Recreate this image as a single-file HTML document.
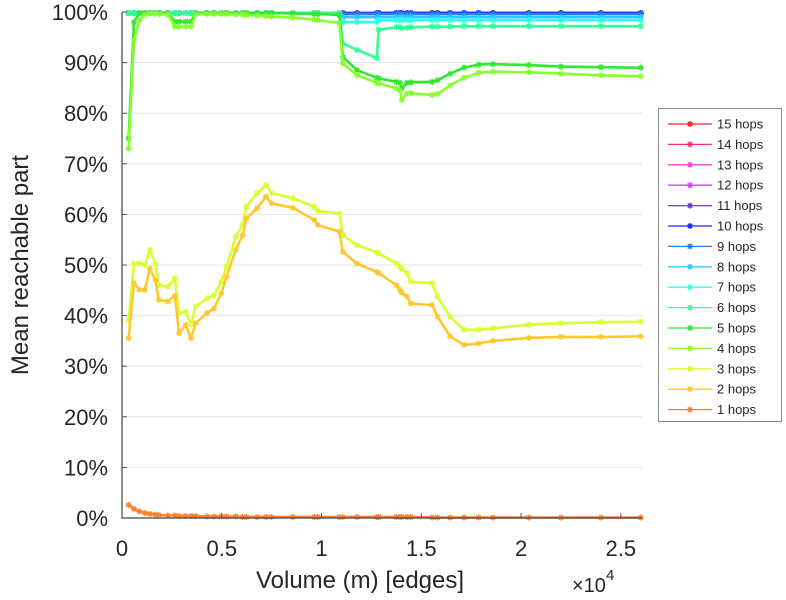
<!DOCTYPE html>
<html><head><meta charset="utf-8"><style>
html,body{margin:0;padding:0;background:#fff;}
svg{display:block;font-family:"Liberation Sans",sans-serif;}
</style></head><body>
<svg id="chart" width="786" height="600" viewBox="0 0 786 600">
<g id="grid"></g>
<g id="series"></g>
<g id="axes"></g>
<text x="360" y="588" font-size="24" fill="#262626" text-anchor="middle">Volume (m) [edges]</text>
<text x="572" y="592" font-size="20" fill="#262626">×10<tspan font-size="15" dy="-12">4</tspan></text>
<text transform="translate(28,265) rotate(-90)" font-size="24" fill="#262626" text-anchor="middle">Mean reachable part</text>
<g id="legend"></g>
</svg>
<script>
const xs = [330,600,870,1140,1400,1670,1850,2300,2650,2860,3190,3460,3690,4260,4610,4970,5240,5700,6050,6230,6770,7220,7490,8560,9640,9810,10890,11070,11780,12770,12860,13750,13930,14020,14290,14470,15540,15810,16440,17140,17870,18590,20380,22000,24000,26000];
const hop1 = [2.6,1.8,1.3,1.0,0.8,0.7,0.6,0.5,0.5,0.4,0.4,0.4,0.4,0.3,0.3,0.3,0.3,0.3,0.2,0.2,0.2,0.2,0.2,0.2,0.2,0.2,0.2,0.2,0.2,0.2,0.2,0.2,0.2,0.2,0.2,0.2,0.1,0.1,0.1,0.1,0.1,0.1,0.1,0.1,0.1,0.1];
const hop2 = [35.5,46.4,45.1,45.1,49.3,47.0,43.1,42.8,43.9,36.5,38.2,35.5,38.5,40.5,41.4,44.4,47.7,53,55.9,59.2,61.2,63.5,62.2,61.3,58.9,57.9,56.6,52.6,50.3,48.6,48.4,46,45.1,44.5,43.7,42.4,42.1,39.8,35.9,34.2,34.5,35,35.6,35.8,35.8,35.9];
const hop3 = [39.1,50.3,50.3,50,53,50.3,46,45.7,47.4,40.5,40.8,38.2,41.8,43.4,44,46.7,49.7,55.6,57.9,61.5,64.2,65.8,64.2,63.2,61.5,60.7,60.2,55.9,53.9,52.5,52.3,50.3,49.7,49.2,48.4,46.7,46.4,43.7,39.8,37.2,37.2,37.5,38.2,38.5,38.7,38.8];
const hop4 = [73,94.5,98.4,99.5,99.7,99.6,99.6,99.5,97.1,97.1,97.1,97.1,99.5,99.6,99.6,99.6,99.6,99.5,99.5,99.4,99.3,99.2,99.1,98.9,98.5,98.4,97.8,89.8,87.5,86,85.9,84.9,84.5,82.6,83.9,84,83.6,83.8,85.5,87,88,88.2,88.1,87.8,87.5,87.3];
const hop5 = [75,98,99.9,100,100,100,100,100,98.1,98.1,98.1,98.1,99.9,99.9,99.9,99.9,99.9,99.9,99.9,99.9,99.9,99.8,99.8,99.7,99.6,99.6,99.4,91.1,88.5,87,86.9,86.2,86,84.9,86,86.1,86.2,86.5,87.8,89,89.6,89.7,89.5,89.2,89.1,89];
const hop6 = [100,100,100,100,100,100,100,100,100,100,100,100,100,100,100,100,100,100,100,100,100,100,100,100,100,100,99.8,93.8,92.5,90.9,96.5,97,97,96.8,96.9,97,97.1,97.1,97.1,97.2,97.2,97.2,97.2,97.2,97.2,97.2];
const hop7 = [100,100,100,100,100,100,100,100,100,100,100,100,100,100,100,100,100,100,100,100,100,100,100,100,100,100,100,98,98,98,98.4,98.4,98.4,98.4,98.4,98.4,98.4,98.4,98.4,98.4,98.4,98.4,98.4,98.4,98.4,98.4];
const hop8 = [100,100,100,100,100,100,100,100,100,100,100,100,100,100,100,100,100,100,100,100,100,100,100,100,100,100,100,99,99,99,99,99,99,99,99,99,99,99,99,99,99,99,99,99,99,99];
const hop9 = [100,100,100,100,100,100,100,100,100,100,100,100,100,100,100,100,100,100,100,100,100,100,100,100,100,100,100,99.6,99.6,99.6,99.6,99.6,99.6,99.6,99.6,99.6,99.6,99.6,99.6,99.6,99.6,99.6,99.6,99.6,99.6,99.6];
const hop10 = [100,100,100,100,100,100,100,100,100,100,100,100,100,100,100,100,100,100,100,100,100,100,100,100,100,100,100,99.7,99.7,99.7,100,100,100,100,100,100,100,100,100,100,100,100,100,100,100,100];
const hopTop = [100,100,100,100,100,100,100,100,100,100,100,100,100,100,100,100,100,100,100,100,100,100,100,100,100,100,100,100,100,100,100,100,100,100,100,100,100,100,100,100,100,100,100,100,100,100];
const seriesLabels = ["15 hops","14 hops","13 hops","12 hops","11 hops","10 hops","9 hops","8 hops","7 hops","6 hops","5 hops","4 hops","3 hops","2 hops","1 hops"];
const seriesValues = [hopTop,hopTop,hopTop,hopTop,hopTop,hop10,hop9,hop8,hop7,hop6,hop5,hop4,hop3,hop2,hop1];
const seriesColors = ["#ff2020","#ff3080","#ff40e0","#d040ff","#7030ff","#2020ff","#2080ff","#30c8ff","#30ffe8","#30ff98","#30e830","#88ff30","#d8ff30","#ffc830","#ff8030"];
const yTicks = [0,10,20,30,40,50,60,70,80,90,100];
const xTicks = [0,5000,10000,15000,20000,25000];
const xTickLabels = ["0","0.5","1","1.5","2","2.5"];

const NS="http://www.w3.org/2000/svg";
const L=122,R=642,T=12,B=518,XMAX=26060;
const sx=v=>L+(v/XMAX)*(R-L);
const sy=v=>B-(v/100)*(B-T);
function mk(tag,attrs,parent){const e=document.createElementNS(NS,tag);for(const k in attrs)e.setAttribute(k,attrs[k]);parent.appendChild(e);return e;}
const grid=document.getElementById('grid'),axes=document.getElementById('axes'),sg=document.getElementById('series'),lg=document.getElementById('legend');
yTicks.forEach(t=>{
  const y=sy(t);
  if(t>0){const g=mk('line',{x1:L,x2:R,y1:y,y2:y,stroke:'#e6e6e6','stroke-width':1},grid);
  
  }
  const tk=mk('line',{x1:L,x2:L+5,y1:y,y2:y,stroke:'#555','stroke-width':1},axes);
  
  
  const tx=mk('text',{x:108,y:y+8,'font-size':22,fill:'#262626','text-anchor':'end'},axes);
  tx.textContent=t+'%';
  
  
});
xTicks.forEach((t,i)=>{
  const x=sx(t);
  const tk=mk('line',{x1:x,x2:x,y1:B,y2:B-5,stroke:'#555','stroke-width':1},axes);
  
  
  const tx=mk('text',{x:x,y:556,'font-size':22,fill:'#262626','text-anchor':'middle'},axes);
  tx.textContent=xTickLabels[i];
  
  
});
const ax=mk('path',{d:`M${L},${T}V${B}H${R}`,fill:'none',stroke:'#444','stroke-width':1.2},axes);


function star(x,y,c,parent){
  const s=3;
  return mk('path',{d:`M${x-s},${y}H${x+s}M${x},${y-s}V${y+s}M${x-2.2},${y-2.2}L${x+2.2},${y+2.2}M${x-2.2},${y+2.2}L${x+2.2},${y-2.2}`,stroke:c,'stroke-width':1.3,fill:'none'},parent);
}
seriesValues.forEach((vals,si)=>{
  const c=seriesColors[si];
  const g=mk('g',{},sg);
  
  
  const d=vals.map((v,i)=>(i?'L':'M')+sx(xs[i]).toFixed(1)+','+Math.max(sy(v),T+1).toFixed(1)).join('');
  const p=mk('path',{d:d,fill:'none',stroke:c,'stroke-width':2.6,'stroke-linejoin':'round'},g);
  
  
  vals.forEach((v,i)=>{
    const m=star(sx(xs[i]),Math.max(sy(v),T+1),c,g);
    
    
  });
});
const box=mk('rect',{x:658.5,y:108.5,width:123,height:313,fill:'#fff',stroke:'#888','stroke-width':1},lg);


seriesLabels.forEach((lab,i)=>{
  const y=124+i*20.4;
  const g=mk('g',{},lg);
  
  
  mk('line',{x1:668,x2:712,y1:y,y2:y,stroke:seriesColors[i],'stroke-width':1.3},g);
  star(690,y,seriesColors[i],g);
  const t=mk('text',{x:717,y:y+4.5,'font-size':13,fill:'#262626'},g);
  t.textContent=lab;
  
  
});
</script>
</body></html>
